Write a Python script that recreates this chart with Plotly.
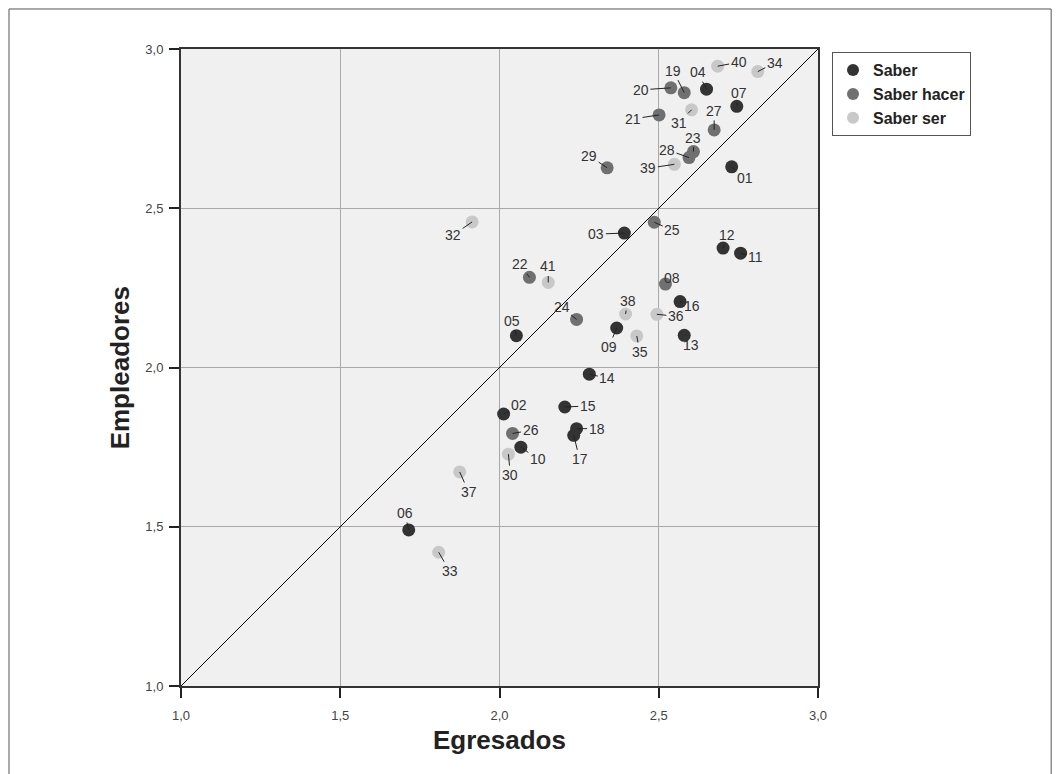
import plotly.graph_objects as go

# ---- data ----
saber_ids = ["01", "02", "03", "04", "05", "06", "07", "09", "10", "11", "12", "13", "14", "15", "16", "17", "18"]
saber_egr = [2.729, 2.013, 2.392, 2.650, 2.053, 1.715, 2.745, 2.368, 2.067, 2.757, 2.702, 2.580, 2.282, 2.205, 2.567, 2.233, 2.242]
saber_emp = [2.630, 1.854, 2.422, 2.874, 2.100, 1.490, 2.820, 2.124, 1.750, 2.359, 2.375, 2.101, 1.979, 1.876, 2.207, 1.787, 1.808]

hacer_ids = ["08", "19", "20", "21", "22", "23", "24", "25", "26", "27", "28", "29"]
hacer_egr = [2.521, 2.580, 2.538, 2.501, 2.094, 2.609, 2.242, 2.486, 2.041, 2.674, 2.595, 2.338]
hacer_emp = [2.262, 2.863, 2.878, 2.793, 2.283, 2.678, 2.151, 2.456, 1.793, 2.746, 2.659, 2.627]

ser_ids = ["30", "31", "32", "33", "34", "35", "36", "37", "38", "39", "40", "41"]
ser_egr = [2.028, 2.603, 1.914, 1.809, 2.811, 2.431, 2.494, 1.875, 2.396, 2.549, 2.685, 2.153]
ser_emp = [1.728, 2.809, 2.457, 1.420, 2.929, 2.099, 2.167, 1.672, 2.168, 2.638, 2.946, 2.267]

tick_vals = [1.0, 1.5, 2.0, 2.5, 3.0]
tick_text = ["1,0", "1,5", "2,0", "2,5", "3,0"]

# label offsets in pixels (dx right, dy down) from point to label
label_offsets = {
    "01": (13, 11), "02": (15, -9), "03": (-28, 1), "04": (-9, -17), "05": (-4, -15),
    "06": (-4, -17), "07": (2, -13), "08": (7, -6), "09": (-8, 19), "10": (17, 12),
    "11": (15, 4), "12": (4, -13), "13": (7, 10), "14": (18, 4), "15": (23, -1),
    "16": (12, 4), "17": (6, 24), "18": (20, 0), "19": (-11, -22), "20": (-30, 2),
    "21": (-26, 4), "22": (-9, -13), "23": (0, -14), "24": (-15, -12), "25": (18, 8),
    "26": (18, -3), "27": (0, -19), "28": (-22, -8), "29": (-18, -12), "30": (2, 21),
    "31": (-13, 13), "32": (-19, 13), "33": (11, 19), "34": (17, -9), "35": (3, 16),
    "36": (19, 2), "37": (9, 20), "38": (2, -13), "39": (-26, 4), "40": (21, -4),
    "41": (0, -16),
}

groups = [
    ("Saber", saber_ids, saber_egr, saber_emp, "#333333"),
    ("Saber hacer", hacer_ids, hacer_egr, hacer_emp, "#707070"),
    ("Saber ser", ser_ids, ser_egr, ser_emp, "#c8c8c8"),
]

FONT = "Liberation Sans, Arial"

fig = go.Figure()

# diagonal reference line
fig.add_trace(go.Scatter(x=[1.0, 3.0], y=[1.0, 3.0], mode="lines",
                         line=dict(color="black", width=1), showlegend=False,
                         hoverinfo="skip"))

annotations = []
for name, ids, xs, ys, col in groups:
    fig.add_trace(go.Scatter(x=xs, y=ys, mode="markers", name="<b>" + name + "</b>", text=ids,
                             marker=dict(size=13, color=col, line=dict(width=0))))
    for i, xv, yv in zip(ids, xs, ys):
        dx, dy = label_offsets[i]
        annotations.append(dict(
            x=xv, y=yv, xref="x", yref="y", text=i, showarrow=True,
            ax=dx, ay=dy, axref="pixel", ayref="pixel",
            arrowhead=0, arrowwidth=1, arrowcolor="#222222", standoff=0,
            font=dict(family=FONT, size=14, color="#333333"),
        ))

# axis titles
annotations.append(dict(x=0.5, y=-0.085, xref="paper", yref="paper", text="<b>Egresados</b>",
                        showarrow=False, xanchor="center", yanchor="middle",
                        font=dict(family=FONT, size=26, color="#222222")))
annotations.append(dict(x=-0.096, y=0.5, xref="paper", yref="paper", text="<b>Empleadores</b>",
                        showarrow=False, textangle=-90, xanchor="center", yanchor="middle",
                        font=dict(family=FONT, size=26, color="#222222")))

shapes = [
    # outer frame
    dict(type="line", xref="paper", yref="paper", x0=-0.270, x1=-0.270, y0=1.0628, y1=-0.2,
         line=dict(color="#555555", width=1)),
    dict(type="line", xref="paper", yref="paper", x0=-0.270, x1=1.366, y0=1.0628, y1=1.0628,
         line=dict(color="#555555", width=1)),
    dict(type="line", xref="paper", yref="paper", x0=1.366, x1=1.366, y0=1.0628, y1=-0.2,
         line=dict(color="#555555", width=1)),
]

axis_common = dict(range=[1.0, 3.0], tickvals=tick_vals, ticktext=tick_text,
                   showgrid=True, gridcolor="#a8a8a8", gridwidth=1,
                   zeroline=False, showline=True, linecolor="#333333", linewidth=2,
                   mirror=True, ticks="outside", ticklen=10, tickwidth=2, tickcolor="#222222",
                   tickfont=dict(family=FONT, size=13, color="#444444"),
                   fixedrange=True)

xaxis = dict(axis_common, ticklabelstandoff=6)
yaxis = dict(axis_common, ticklabelstandoff=3)

fig.update_layout(
    width=1052, height=766,
    margin=dict(l=173, r=242, t=41, b=88),
    paper_bgcolor="white", plot_bgcolor="#f0f0f0",
    xaxis=xaxis, yaxis=yaxis,
    annotations=annotations, shapes=shapes,
    legend=dict(x=1.022, y=0.995, xanchor="left", yanchor="top",
                bordercolor="#555555", borderwidth=1, bgcolor="white",
                font=dict(family=FONT, size=16, color="#222222"),
                itemsizing="constant", tracegroupgap=0),
    showlegend=True,
)

fig.write_html("out.html")
